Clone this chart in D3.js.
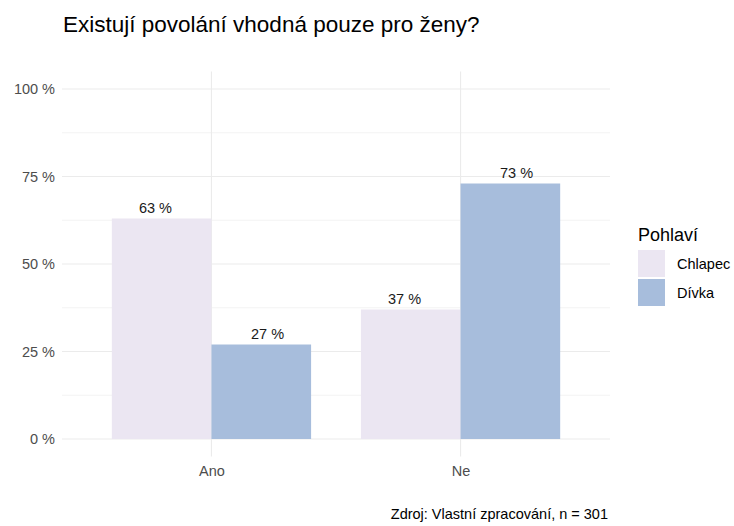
<!DOCTYPE html>
<html>
<head>
<meta charset="utf-8">
<script src="https://cdn.jsdelivr.net/npm/d3@7"></script>
<style>
  html, body { margin: 0; padding: 0; background: #fff; }
  svg { display: block; font-family: "Liberation Sans", Arial, sans-serif; }
</style>
</head>
<body>
<svg id="chart" width="734" height="526"></svg>
<script>
const categories = ["Ano", "Ne"];
const groups = ["Chlapec", "Dívka"];
const chlapecValues = [63, 37];
const divkaValues = [27, 73];
const yTicks = [0, 25, 50, 75, 100];
const yMinorTicks = [12.5, 37.5, 62.5, 87.5];
const colors = ["#ebe6f2", "#a7bddc"];
const titleText = "Existují povolání vhodná pouze pro ženy?";
const legendTitle = "Pohlaví";
const captionText = "Zdroj: Vlastní zpracování, n = 301";

const seriesValues = [chlapecValues, divkaValues];

const svg = d3.select("#chart");
const panel = { left: 62, right: 610, top: 71.5, bottom: 456.5 };

const x = d3.scalePoint().domain(categories).range([panel.left, panel.right]).padding(0.6);
const step = x.step();
const y = d3.scaleLinear().domain([-5, 105]).range([panel.bottom, panel.top]);
const color = d3.scaleOrdinal().domain(groups).range(colors);

// grid
const g = svg.append("g");
g.selectAll("line.minor").data(yMinorTicks).join("line")
  .attr("x1", panel.left).attr("x2", panel.right)
  .attr("y1", d => y(d)).attr("y2", d => y(d))
  .attr("stroke", "#ebebeb").attr("stroke-width", 0.6);
g.selectAll("line.major").data(yTicks).join("line")
  .attr("x1", panel.left).attr("x2", panel.right)
  .attr("y1", d => y(d)).attr("y2", d => y(d))
  .attr("stroke", "#ebebeb").attr("stroke-width", 1.1);
g.selectAll("line.vmajor").data(categories).join("line")
  .attr("x1", d => x(d)).attr("x2", d => x(d))
  .attr("y1", panel.top).attr("y2", panel.bottom)
  .attr("stroke", "#ebebeb").attr("stroke-width", 1.1);

// bars
const barW = 0.4 * step;
groups.forEach((grp, gi) => {
  const data = categories.map((c, ci) => ({ c, v: seriesValues[gi][ci] }));
  svg.append("g").selectAll("rect").data(data).join("rect")
    .attr("x", d => x(d.c) - barW + gi * barW)
    .attr("width", barW)
    .attr("y", d => y(d.v))
    .attr("height", d => y(0) - y(d.v))
    .attr("fill", color(grp));
  svg.append("g").selectAll("text").data(data).join("text")
    .attr("x", d => x(d.c) + (gi === 0 ? -1 : 1) * 0.225 * step)
    .attr("y", d => y(d.v) - 5.5)
    .attr("text-anchor", "middle")
    .attr("font-size", "14.5px")
    .attr("fill", "#1a1a1a")
    .text(d => d.v + " %");
});

// axes
const yAxis = d3.axisLeft(y).tickValues(yTicks).tickSize(0).tickPadding(0).tickFormat(d => d + " %");
const ya = svg.append("g").attr("transform", `translate(${panel.left - 7},0)`).call(yAxis);
ya.select(".domain").remove();
ya.selectAll("text").attr("font-size", "14.5px").attr("fill", "#4d4d4d").attr("font-family", "Liberation Sans, Arial, sans-serif");

const xAxis = d3.axisBottom(x).tickSize(0).tickPadding(0);
const xa = svg.append("g").attr("transform", `translate(0,${panel.bottom + 9})`).call(xAxis);
xa.select(".domain").remove();
xa.selectAll("text").attr("font-size", "14.5px").attr("fill", "#4d4d4d").attr("font-family", "Liberation Sans, Arial, sans-serif");

// title
svg.append("text").attr("x", 63).attr("y", 31.5)
  .attr("font-size", "22.5px").attr("fill", "#000").text(titleText);

// legend
const lg = svg.append("g");
lg.append("text").attr("x", 638).attr("y", 241).attr("font-size", "18px").attr("fill", "#000").text(legendTitle);
groups.forEach((grp, i) => {
  const top = 250 + i * 29;
  lg.append("rect").attr("x", 638).attr("y", top).attr("width", 27).attr("height", 27).attr("fill", color(grp));
  lg.append("text").attr("x", 677).attr("y", top + 13.5).attr("dy", "0.36em")
    .attr("font-size", "14.5px").attr("fill", "#000").text(grp);
});

// caption
svg.append("text").attr("x", 608).attr("y", 519).attr("text-anchor", "end")
  .attr("font-size", "14.5px").attr("fill", "#000").text(captionText);
</script>
</body>
</html>
